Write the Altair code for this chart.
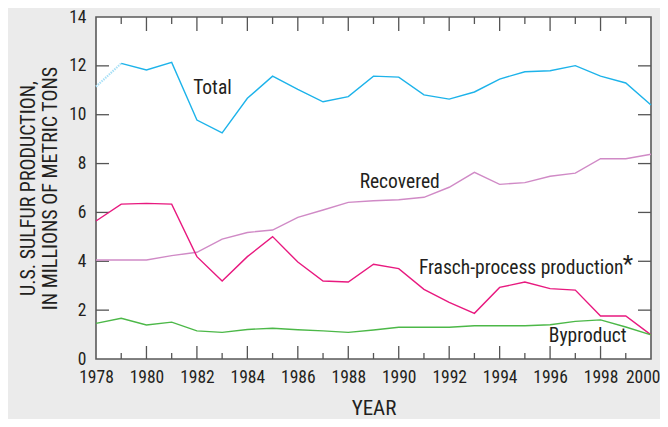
import altair as alt
import pandas as pd

years = list(range(1978, 2001))
total = [11.15, 12.10, 11.83, 12.14, 9.78, 9.26, 10.67, 11.58, 11.04, 10.53, 10.74,
         11.58, 11.54, 10.81, 10.64, 10.93, 11.46, 11.76, 11.80, 12.01, 11.58, 11.30, 10.40]
recovered = [4.05, 4.05, 4.05, 4.23, 4.37, 4.91, 5.18, 5.28, 5.80, 6.10, 6.41,
             6.48, 6.52, 6.62, 7.03, 7.64, 7.15, 7.22, 7.48, 7.61, 8.20, 8.20, 8.38]
frasch = [5.65, 6.34, 6.37, 6.34, 4.19, 3.19, 4.19, 5.01, 3.97, 3.19, 3.15,
          3.88, 3.70, 2.85, 2.32, 1.87, 2.93, 3.15, 2.88, 2.82, 1.76, 1.76, 0.99]
byproduct = [1.46, 1.67, 1.39, 1.51, 1.15, 1.09, 1.21, 1.26, 1.20, 1.15, 1.09,
             1.19, 1.30, 1.30, 1.30, 1.36, 1.36, 1.36, 1.40, 1.54, 1.60, 1.31, 0.99]

series_names = ["Total", "Recovered", "Frasch", "Byproduct"]
series_colors = ["#1db3ea", "#d08ac6", "#e8197f", "#4cb848"]

label_text = ["Total", "Recovered", "Frasch-process production", "Byproduct"]
label_x = [1981.85, 1988.45, 1990.8, 1995.95]
label_y = [11.09, 7.25, 3.72, 0.94]
asterisk_x = [1998.88]
asterisk_y = [3.72]

y_ticks = [0, 2, 4, 6, 8, 10, 12, 14]
right_ticks = [2, 4, 6, 8, 10, 12]
x_major = list(range(1978, 2001, 2))
x_minor = list(range(1979, 2000, 2))

W, H = 555, 342
FONT = "Liberation Sans Narrow, Roboto Condensed, DejaVu Sans Condensed, sans-serif"
TXT = "#231f20"
TICK = "#555555"

rows = []
for name, vals in zip(series_names, [total, recovered, frasch, byproduct]):
    for yr, v in zip(years, vals):
        if name == "Total" and yr == 1978:
            continue
        rows.append({"year": yr, "value": v, "series": name})
df = pd.DataFrame(rows)
faint = pd.DataFrame({"year": years[:2], "value": total[:2]})

xs = alt.Scale(domain=[1978, 2000], nice=False, zero=False)
ys = alt.Scale(domain=[0, 14], nice=False)

lines = alt.Chart(df).mark_line(strokeWidth=1.4).encode(
    x=alt.X("year:Q", scale=xs,
            axis=alt.Axis(values=x_major, format="d", title="YEAR", labelPadding=9,
                          labelFlush=False, labelOverlap=False, titlePadding=12,
                          titleFontSize=21,
                          labelAlign=alt.condition("datum.value == 2000", alt.value("right"), alt.value("center")),
                          labelOffset=alt.condition("datum.value == 2000", alt.value(9), alt.value(0)))),
    y=alt.Y("value:Q", scale=ys,
            axis=alt.Axis(values=y_ticks, title=["U.S. SULFUR PRODUCTION,", "IN MILLIONS OF METRIC TONS"],
                          labelPadding=10, titlePadding=8, titleFontSize=20, titleLineHeight=22)),
    color=alt.Color("series:N", scale=alt.Scale(domain=series_names, range=series_colors), legend=None),
)

faint_line = alt.Chart(faint).mark_line(strokeWidth=2.2, color="#a9e0f6", strokeDash=[1.5, 1]).encode(
    x=alt.X("year:Q", scale=xs), y=alt.Y("value:Q", scale=ys)
)

labels = alt.Chart(pd.DataFrame({"x": label_x, "y": label_y, "t": label_text})).mark_text(
    align="left", baseline="middle", font=FONT, fontSize=19.5, color=TXT
).encode(x=alt.X("x:Q", scale=xs), y=alt.Y("y:Q", scale=ys), text="t:N")

asterisk = alt.Chart(pd.DataFrame({"x": asterisk_x, "y": asterisk_y, "t": ["*"]})).mark_text(
    align="left", baseline="middle", font=FONT, fontSize=24, color=TXT, dy=-3
).encode(x=alt.X("x:Q", scale=xs), y=alt.Y("y:Q", scale=ys), text="t:N")

left_t = alt.Chart(pd.DataFrame({"v": y_ticks[1:-1]})).mark_rule(color=TICK, strokeWidth=1.3).encode(
    y=alt.Y("v:Q", scale=ys), x=alt.value(0), x2=alt.value(13))
right_t = alt.Chart(pd.DataFrame({"v": right_ticks})).mark_rule(color=TICK, strokeWidth=1.3).encode(
    y=alt.Y("v:Q", scale=ys), x=alt.value(W - 13), x2=alt.value(W))
bot_major = alt.Chart(pd.DataFrame({"v": x_major[1:-1]})).mark_rule(color=TICK, strokeWidth=1.3).encode(
    x=alt.X("v:Q", scale=xs), y=alt.value(H), y2=alt.value(H - 13))
bot_minor = alt.Chart(pd.DataFrame({"v": x_minor})).mark_rule(color=TICK, strokeWidth=1.3).encode(
    x=alt.X("v:Q", scale=xs), y=alt.value(H), y2=alt.value(H - 6))
top_major = alt.Chart(pd.DataFrame({"v": x_major[1:-1]})).mark_rule(color=TICK, strokeWidth=1.3).encode(
    x=alt.X("v:Q", scale=xs), y=alt.value(0), y2=alt.value(14))
top_minor = alt.Chart(pd.DataFrame({"v": x_minor})).mark_rule(color=TICK, strokeWidth=1.3).encode(
    x=alt.X("v:Q", scale=xs), y=alt.value(0), y2=alt.value(7))

chart = alt.layer(
    left_t, right_t, bot_major, bot_minor, top_major, top_minor, faint_line, lines, labels, asterisk
).properties(
    width=W, height=H, background="#ebebeb",
    autosize=alt.AutoSizeParams(type="none"),
    padding={"left": 88, "top": 9, "right": 9, "bottom": 60},
).configure_view(
    fill="white", stroke="#5a5a5a", strokeWidth=1.6
).configure_axis(
    domain=False, ticks=False, grid=False,
    labelFont=FONT, labelFontSize=17.5, labelColor=TXT,
    titleFont=FONT, titleFontWeight="normal", titleColor=TXT,
)

chart.save("out.html", embed_options={"renderer": "svg", "actions": False})
